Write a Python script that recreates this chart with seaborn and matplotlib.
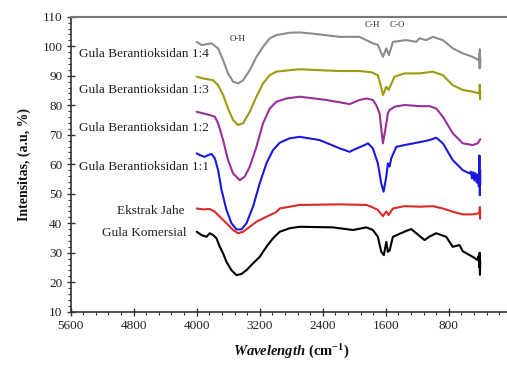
import matplotlib
matplotlib.use("Agg")
import matplotlib.pyplot as plt
import seaborn as sns
import pandas as pd
from matplotlib.ticker import MultipleLocator, FixedLocator

sns.set_theme(style="white")
plt.rcParams['font.family'] = ['Liberation Serif', 'DejaVu Serif']
plt.rcParams['mathtext.fontset'] = 'custom'
plt.rcParams['mathtext.rm'] = 'Liberation Serif'
plt.rcParams['mathtext.bf'] = 'Liberation Serif:bold'
plt.rcParams['mathtext.it'] = 'Liberation Serif:italic'
plt.rcParams['mathtext.bfit'] = 'Liberation Serif:italic:bold'

# ---- data (wavenumber cm-1, intensity) ----
wn_14 = [4000, 3939, 3876, 3812, 3783, 3728, 3665, 3602, 3538, 3475, 3411, 3326, 3242, 3158, 3073,
         2988, 2819, 2692, 2500, 2185, 1932, 1763, 1700, 1636, 1593, 1560, 1509, 1340, 1213, 1171,
         1086, 1002, 875, 749, 622, 495, 419, 412, 408, 405, 402, 400]
int_14 = [101.5, 100.4, 100.7, 101.0, 100.4, 99.3, 95.3, 90.8, 88.0, 87.4, 88.5, 91.9, 96.4, 99.8, 102.7,
          103.8, 104.6, 104.7, 104.2, 103.2, 103.2, 101.0, 100.5, 96.4, 99.3, 97.0, 101.5, 102.1, 101.5, 102.7,
          102.1, 103.2, 102.1, 99.3, 97.6, 96.4, 95.3, 97.5, 92.5, 99.0, 93.0, 96.0]

wn_13 = [4000, 3919, 3855, 3792, 3728, 3665, 3602, 3538, 3475, 3411, 3326, 3242, 3158, 3073, 2988,
         2819, 2692, 2185, 1932, 1783, 1700, 1657, 1636, 1593, 1564, 1488, 1361, 1171, 1002, 875,
         749, 622, 495, 410, 406, 403, 400]
int_13 = [89.7, 89.1, 88.8, 88.5, 86.8, 83.5, 78.9, 75.0, 73.3, 73.9, 77.8, 82.9, 87.4, 90.2, 91.4,
          91.9, 92.2, 91.6, 91.6, 91.2, 90.2, 86.0, 83.5, 86.3, 85.2, 89.7, 90.8, 90.8, 91.4, 90.2,
          86.8, 85.2, 84.6, 84.0, 87.0, 82.0, 85.0]

wn_12 = [4000, 3919, 3834, 3770, 3728, 3665, 3602, 3538, 3453, 3390, 3326, 3242, 3158, 3073, 2988,
         2861, 2692, 2354, 2058, 1932, 1847, 1763, 1720, 1678, 1636, 1606, 1573, 1551, 1488, 1361,
         1171, 1044, 959, 875, 749, 622, 495, 432, 400]
int_12 = [77.8, 77.25, 76.7, 76.1, 73.9, 68.2, 61.4, 56.9, 54.6, 55.8, 59.2, 65.9, 73.9, 78.9, 81.2,
          82.3, 82.9, 81.8, 80.4, 81.8, 82.3, 81.8, 80.0, 77.25, 67.1, 71.6, 77.25, 78.4, 79.5, 80.1,
          79.7, 79.7, 78.9, 76.1, 70.5, 67.1, 66.5, 67.1, 68.5]

wn_11 = [4000, 3960, 3897, 3855, 3812, 3770, 3728, 3685, 3622, 3559, 3495, 3432, 3368, 3285, 3200,
         3115, 3031, 2946, 2819, 2692, 2439, 2185, 2058, 2015, 1868, 1826, 1763, 1700, 1657, 1627,
         1593, 1573, 1551, 1530, 1466, 1361, 1150, 1044, 959, 875, 749, 622, 537, 520, 505,
         490, 475, 460, 445, 430, 418, 410, 405, 402, 400]
int_11 = [63.7, 63.1, 62.5, 63.1, 63.5, 62.0, 58.0, 51.3, 44.5, 40.0, 37.9, 37.9, 40.0, 45.6, 53.5,
          60.3, 64.8, 67.3, 68.8, 69.3, 68.2, 65.4, 64.2, 64.8, 66.5, 67.1, 65.4, 60.3, 53.5, 50.7,
          55.8, 60.3, 59.2, 62.0, 65.9, 66.5, 67.6, 68.2, 69.0, 67.1, 61.4, 58.0, 56.9, 57.5, 55.2,
          57.3, 54.5, 57.0, 53.8, 56.5, 52.5, 63.0, 49.5, 58.0, 53.0]

wn_jahe = [4000, 3919, 3834, 3770, 3707, 3622, 3538, 3475, 3411, 3326, 3242, 3115, 2988, 2946, 2692,
           2185, 1847, 1783, 1700, 1636, 1593, 1564, 1509, 1361, 1171, 1002, 875, 749, 622, 495,
           410, 405, 403, 400]
int_jahe = [45.0, 44.7, 44.8, 43.9, 42.2, 40.0, 37.7, 36.6, 37.1, 38.8, 40.5, 42.2, 43.8, 45.0, 46.2,
            46.4, 46.2, 45.6, 44.5, 42.4, 44.0, 42.8, 45.0, 45.8, 45.6, 45.8, 45.0, 43.9, 43.0, 43.0,
            43.4, 45.5, 41.5, 44.0]

wn_kom = [4000, 3939, 3876, 3834, 3792, 3749, 3707, 3665, 3622, 3559, 3495, 3432, 3368, 3285, 3200,
          3115, 3031, 2946, 2819, 2692, 2270, 2015, 1847, 1763, 1700, 1657, 1624, 1593, 1573, 1551,
          1509, 1340, 1276, 1107, 1044, 959, 832, 749, 664, 622, 495, 432, 420, 412, 408, 404, 400]
int_kom = [37.1, 36.0, 35.4, 36.6, 36.0, 34.9, 32.0, 29.8, 26.9, 24.1, 22.4, 22.8, 24.1, 26.4, 28.6,
           32.0, 34.9, 37.1, 38.3, 38.8, 38.6, 37.7, 38.6, 37.7, 35.4, 30.3, 29.2, 33.7, 30.3, 30.8,
           35.4, 37.4, 38.0, 34.3, 35.5, 36.6, 35.4, 32.0, 32.6, 30.5, 28.6, 27.5, 29.0, 25.0, 30.0, 22.5, 27.0]

series_names = ["Gula Berantioksidan 1:4", "Gula Berantioksidan 1:3", "Gula Berantioksidan 1:2",
                "Gula Berantioksidan 1:1", "Ekstrak Jahe", "Gula Komersial"]
series_wn = [wn_14, wn_13, wn_12, wn_11, wn_jahe, wn_kom]
series_int = [int_14, int_13, int_12, int_11, int_jahe, int_kom]
label_y = [97.4, 85.2, 72.4, 59.2, 44.2, 36.6]
label_x = [3850, 3850, 3850, 3850, 4150, 4130]
colors = ["#8c8c8c", "#9c9a10", "#99309a", "#1a1adc", "#dc2a2a", "#000000"]

x_ticks = [5600, 4800, 4000, 3200, 2400, 1600, 800]
bands = ["O-H", "C-H", "C-O"]
band_x = [3479, 1767, 1450]
band_y = [102.4, 107.2, 107.2]

rows = []
for name, w, v in zip(series_names, series_wn, series_int):
    for a, b in zip(w, v):
        rows.append({"Sample": name, "wn": a, "I": b})
df = pd.DataFrame(rows)

fig = plt.figure(figsize=(5.07, 3.65), dpi=100)
ax = fig.add_axes([0.1394, 0.146, 0.870, 0.808])

sns.lineplot(data=df, x="wn", y="I", hue="Sample", palette=dict(zip(series_names, colors)),
             sort=False, estimator=None, units="Sample", linewidth=1.5, legend=False, ax=ax)

ax.set_xlim(5600, 0)
ax.set_ylim(10, 110)
ax.xaxis.set_major_locator(FixedLocator(x_ticks))
ax.xaxis.set_minor_locator(MultipleLocator(160))
ax.yaxis.set_major_locator(MultipleLocator(10))
ax.yaxis.set_minor_locator(MultipleLocator(2))
ax.tick_params(axis="both", which="major", direction="inout", length=6, width=1.0,
               labelsize=9.5, colors="#333333", pad=3)
ax.tick_params(axis="both", which="minor", direction="out", length=2.5, width=0.8, colors="#333333")
ax.tick_params(axis="x", which="both", bottom=True, top=False)
ax.tick_params(axis="y", which="both", left=True, right=False)
for lab in ax.get_xticklabels() + ax.get_yticklabels():
    lab.set_color("#222222")

for s in ["left", "bottom"]:
    ax.spines[s].set_color("#333333")
    ax.spines[s].set_linewidth(1.2)
ax.spines["top"].set_color("#777777")
ax.spines["top"].set_linewidth(1.5)
ax.spines["right"].set_visible(False)

ax.set_xlabel(r"$\mathbfit{Wavelength}$ $\mathbf{(cm^{-1})}$", fontsize=10.5, color="#111111", labelpad=8)
ax.set_ylabel("Intensitas, (a.u, %)", fontsize=10, fontweight="bold", color="#111111", labelpad=8)

for name, lx, ly in zip(series_names, label_x, label_y):
    ax.text(lx, ly, name, ha="right", va="center", fontsize=9.5, color="#222222")

for b, bx, by in zip(bands, band_x, band_y):
    ax.text(bx, by, b, ha="center", va="center", fontsize=6.5, color="#222222")

fig.savefig("out.png", dpi=100)
